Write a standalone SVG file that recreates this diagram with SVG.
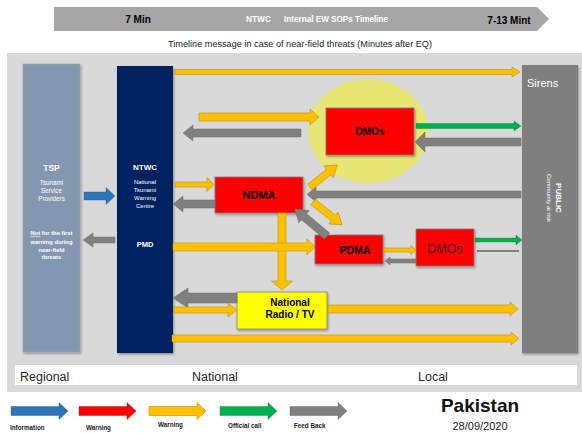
<svg xmlns="http://www.w3.org/2000/svg" width="582" height="433" viewBox="0 0 582 433">
<style>
text{font-family:"Liberation Sans",Arial,sans-serif}
.w{fill:#fff}
.b{font-weight:bold}
.c{text-anchor:middle}
.y{fill:#ffc000;stroke:#bf9000;stroke-width:0.6}
.g{fill:#808080;stroke:#6e6e6e;stroke-width:0.5}
.gr{fill:#00b050;stroke:#008a40;stroke-width:0.4}
.bl{fill:#2e75b6;stroke:#1f5f99;stroke-width:0.4}
.rd{fill:#ff0000;stroke:#c00000;stroke-width:0.4}
.rbox{fill:#ff0000;stroke:#7f7f7f;stroke-width:0.8}
.lab{font-size:6.3px;font-weight:bold;fill:#1a1a1a}
.zone{font-size:12.5px;fill:#262626}
</style>
<defs>
<path id="legArrow" d="M0,-4.5 H48 V-8.5 L57,0 L48,8.5 V4.5 H0 Z"/>
<filter id="sh" x="-10%" y="-10%" width="130%" height="140%">
<feDropShadow dx="1" dy="1.5" stdDeviation="0.8" flood-color="#000" flood-opacity="0.35"/>
</filter>
</defs>
<rect x="0" y="0" width="582" height="433" fill="#fff"/>

<g id="banner">
<polygon points="54,7 537,7 549,19 537,31 54,31" fill="#a6a6a6"/>
<text x="138" y="22.5" class="b c" font-size="10">7 Min</text>
<text x="246" y="22" class="w b" font-size="8.3">NTWC</text>
<text x="284" y="22" class="w b" font-size="8.3" textLength="104" lengthAdjust="spacingAndGlyphs">Internal EW SOPs Timeline</text>
<text x="509" y="23.5" class="b c" font-size="10">7-13 Mint</text>
</g>
<text x="300" y="47" class="c" font-size="8.3" fill="#222" textLength="264" lengthAdjust="spacingAndGlyphs">Timeline message in case of near-field threats  (Minutes after EQ)</text>

<rect x="7" y="53" width="575" height="339" fill="#d9d9d9"/>
<rect x="15" y="365" width="562" height="20" fill="#fff"/>
<text x="20" y="381" class="zone">Regional</text>
<text x="192" y="381" class="zone">National</text>
<text x="418" y="381" class="zone">Local</text>

<ellipse cx="368" cy="131" rx="60" ry="52" fill="#e8e776"/>

<g id="tsp">
<rect x="23" y="64" width="57" height="288" fill="#8497b0" stroke="#a0a0a0" stroke-width="0.6" filter="url(#sh)"/>
<text x="51.5" y="171" class="w b c" font-size="8.5">TSP</text>
<text x="51.5" y="185" class="w c" font-size="6.3">Tsunami</text>
<text x="51.5" y="193" class="w c" font-size="6.3">Service</text>
<text x="51.5" y="201" class="w c" font-size="6.3">Providers</text>
<text x="51.5" y="235" class="w b c" font-size="5.8"><tspan text-decoration="underline">Not</tspan> for the first</text>
<text x="51.5" y="243.5" class="w b c" font-size="5.8">warning during</text>
<text x="51.5" y="251.5" class="w b c" font-size="5.8">near-field</text>
<text x="51.5" y="259" class="w b c" font-size="5.8">threats</text>
</g>

<g id="ntwc">
<rect x="117" y="66" width="56" height="287" fill="#002060" filter="url(#sh)"/>
<text x="145" y="170" class="w b c" font-size="8">NTWC</text>
<text x="145" y="184" class="w c" font-size="6">National</text>
<text x="145" y="192" class="w c" font-size="6">Tsunami</text>
<text x="145" y="200" class="w c" font-size="6">Warning</text>
<text x="145" y="208" class="w c" font-size="6">Centre</text>
<text x="145" y="247" class="w b c" font-size="7.5">PMD</text>
</g>

<g id="public">
<rect x="522" y="65" width="56" height="288" fill="#7f7f7f" filter="url(#sh)"/>
<text x="527" y="87" class="w" font-size="11">Sirens</text>
<text transform="translate(556,198) rotate(90)" class="w b c" font-size="8">PUBLIC</text>
<text transform="translate(546.5,198) rotate(90)" class="w c" font-size="6">Community at risk</text>
</g>

<g id="dmos-top">
<rect x="326" y="108" width="88" height="47" class="rbox" filter="url(#sh)"/>
<text x="370" y="135" class="b c" font-size="10">DMOs</text>
</g>

<g id="ndma">
<rect x="215" y="177" width="88" height="36" class="rbox" filter="url(#sh)"/>
<text x="259" y="199" class="b c" font-size="11">NDMA</text>
</g>

<g id="pdma">
<rect x="315" y="235" width="68" height="29" class="rbox" filter="url(#sh)"/>
<text x="355" y="254" class="b c" font-size="10.5">PDMA</text>
</g>

<g id="dmos-local">
<rect x="416" y="229" width="58" height="37" class="rbox" filter="url(#sh)"/>
<text x="445" y="253" class="c" font-size="12.5" fill="#400">DMOs</text>
</g>

<g id="radio-tv">
<rect x="237" y="292" width="90" height="37" fill="#ffff00" stroke="#7f7f7f" stroke-width="0.8" filter="url(#sh)"/>
<text x="290" y="305.5" class="b c" font-size="10">National</text>
<text x="290" y="317.5" class="b c" font-size="10">Radio / TV</text>
</g>

<g id="connectors">
<polygon class="y" points="175,69.5 512,69.5 512,67 520,72 512,77 512,74.5 175,74.5"/>
<polygon class="y" points="199,113 310,113 310,109 319,117 310,125 310,121 199,121"/>
<polygon class="g" points="301,129 193,129 193,125 183,133 193,141 193,137 301,137"/>
<polygon class="gr" points="416,123.5 514,123.5 514,121 521,126 514,131 514,128.5 416,128.5"/>
<polygon class="g" points="521,138 425,138 425,132 415,142 425,152 425,146 521,146"/>
<polygon class="g" points="521,191 316,191 316,187 307,194.5 316,202 316,198 521,198"/>
<polygon class="y" transform="translate(310,187) rotate(-39)" points="0,-3.5 24,-3.5 24,-7.5 35,0 24,7.5 24,3.5 0,3.5"/>
<polygon class="y" transform="translate(313,202) rotate(38)" points="0,-3.5 26,-3.5 26,-7.5 37,0 26,7.5 26,3.5 0,3.5"/>
<polygon class="g" transform="translate(327,236) rotate(-140)" points="0,-4 30,-4 30,-8 42,0 30,8 30,4 0,4"/>
<polygon class="y" points="175,182 207,182 207,177.5 214,184.5 207,191.5 207,187 175,187"/>
<polygon class="g" points="215,200 183,200 183,196 173,204 183,212 183,208 215,208"/>
<polygon class="y" points="278,213 286,213 286,281 292.5,281 282,290 271.5,281 278,281"/>
<polygon class="y" points="173,243 307,243 307,239 315,247 307,255 307,251 173,251"/>
<polygon class="y" points="384,248 411,248 411,245.5 416,250 411,254.5 411,252 384,252"/>
<polygon class="g" points="416,259 390,259 390,257 385,261 390,265 390,263 416,263"/>
<polygon class="gr" points="475,238 516,238 516,235 522,240 516,245 516,242 475,242"/>
<rect x="477" y="250" width="42" height="2" fill="#808080"/>
<polygon class="g" points="237,293 188,293 188,288 173,298 188,308 188,303 237,303"/>
<polygon class="y" points="174,307 228,307 228,303 237,310 228,317 228,313 174,313"/>
<polygon class="y" points="328,305 510,305 510,302 518,309 510,316 510,313 328,313"/>
<polygon class="y" points="172,335 511,335 511,332 519,338.5 511,345 511,342 172,342"/>
<polygon class="bl" points="84,192 106,192 106,187.5 115,196 106,204.5 106,200 84,200"/>
<polygon class="g" points="115,237 93,237 93,233 83,240 93,247 93,243 115,243"/>
</g>

<g id="legend">
<use href="#legArrow" x="11" y="411" class="bl"/>
<use href="#legArrow" x="79" y="411" class="rd"/>
<use href="#legArrow" x="149" y="411" class="y"/>
<use href="#legArrow" x="220" y="411" class="gr"/>
<use href="#legArrow" x="290" y="411" class="g"/>
<text x="10" y="430" class="lab">Information</text>
<text x="86" y="430" class="lab">Warning</text>
<text x="158" y="427" class="lab">Warning</text>
<text x="228" y="428" class="lab">Official call</text>
<text x="294" y="428" class="lab">Feed Back</text>
</g>

<text x="480" y="412" class="b c" font-size="19" fill="#111">Pakistan</text>
<text x="480" y="430" class="c" font-size="11" fill="#222">28/09/2020</text>
</svg>
